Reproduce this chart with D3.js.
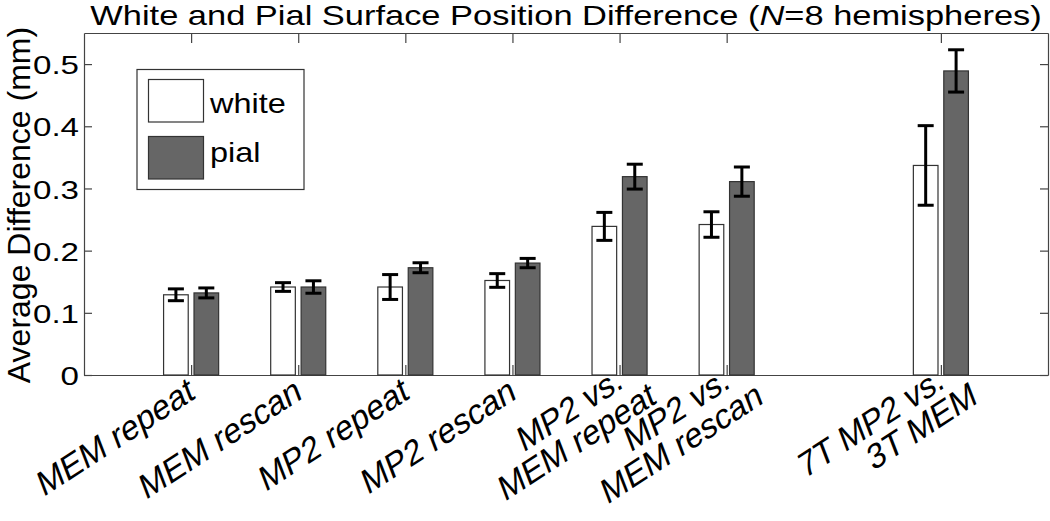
<!DOCTYPE html>
<html><head><meta charset="utf-8">
<script src="https://cdn.jsdelivr.net/npm/d3@7"></script>
<style>body{margin:0;background:#fff}</style>
</head><body><svg id="c" width="1050" height="521"></svg>
<script>
const categories = ["MEM repeat", "MEM rescan", "MP2 repeat", "MP2 rescan", "MP2 vs.\nMEM repeat", "MP2 vs.\nMEM rescan", "7T MP2 vs.\n3T MEM"];
const positions = [1, 2, 3, 4, 5, 6, 8];
const whiteMean = [0.129, 0.1415, 0.1415, 0.152, 0.239, 0.242, 0.337];
const whiteErr  = [0.0095, 0.007, 0.020, 0.011, 0.0225, 0.0205, 0.064];
const pialMean  = [0.132, 0.1415, 0.1725, 0.180, 0.319, 0.311, 0.489];
const pialErr   = [0.008, 0.010, 0.008, 0.0075, 0.020, 0.0235, 0.034];
const yTicks = [0, 0.1, 0.2, 0.3, 0.4, 0.5];
const seriesNames = ["white", "pial"];

const font = "'Liberation Sans', Arial, Helvetica, sans-serif";
const svg = d3.select("#c");
svg.append("rect").attr("width", 1050).attr("height", 521).attr("fill", "#fff");

const m = {left: 84, right: 1048, top: 33, bottom: 375};
const x = d3.scaleLinear().domain([0, 9]).range([m.left, m.right]);
const y = d3.scaleLinear().domain([0, 0.55]).range([m.bottom, m.top]);
const frame = "#444";

svg.append("rect").attr("x", m.left).attr("y", m.top)
  .attr("width", m.right - m.left).attr("height", m.bottom - m.top).attr("fill", "#fff");

const gL = svg.append("g").attr("transform", `translate(${m.left},0)`)
  .call(d3.axisLeft(y).tickValues(yTicks).tickSizeInner(-8).tickSizeOuter(0).tickPadding(5)
    .tickFormat(d => d === 0 ? "0" : d3.format(".1f")(d)));
const gR = svg.append("g").attr("transform", `translate(${m.right},0)`)
  .call(d3.axisRight(y).tickValues(yTicks).tickSizeInner(-8).tickSizeOuter(0).tickFormat(""));
const gT = svg.append("g").attr("transform", `translate(0,${m.top})`)
  .call(d3.axisTop(x).tickValues(positions).tickSizeInner(-10).tickSizeOuter(0).tickFormat(""));
const gB = svg.append("g").attr("transform", `translate(0,${m.bottom})`)
  .call(d3.axisBottom(x).tickValues(positions).tickSizeInner(-10).tickSizeOuter(0).tickFormat(""));
[gL, gR, gT, gB].forEach(g => {
  g.selectAll("path.domain").attr("stroke", frame).attr("stroke-width", 1.2);
  g.selectAll(".tick line").attr("stroke", frame).attr("stroke-width", 1.2);
});
gL.selectAll(".tick text")
  .attr("font-family", font).attr("font-size", 26.5).attr("fill", "#000")
  .attr("x", -5 / 1.25).attr("dy", "0.36em")
  .attr("transform", "scale(1.25,1)");

const barW = 0.23, off = 0.142;
const series = [
  {name: seriesNames[0], mean: whiteMean, err: whiteErr, fill: "#fff", stroke: "#333", dx: -off},
  {name: seriesNames[1], mean: pialMean, err: pialErr, fill: "#666", stroke: "#333", dx: off}
];
const bw = x(barW) - x(0);
series.forEach(s => {
  svg.append("g").selectAll("rect").data(positions).join("rect")
    .attr("x", p => x(p + s.dx) - bw / 2)
    .attr("y", (p, i) => y(s.mean[i]))
    .attr("width", bw)
    .attr("height", (p, i) => y(0) - y(s.mean[i]))
    .attr("fill", s.fill).attr("stroke", s.stroke).attr("stroke-width", 1.2);
});
const cap = 8;
series.forEach(s => {
  const g = svg.append("g").attr("stroke", "#000").attr("stroke-width", 3).attr("fill", "none");
  positions.forEach((p, i) => {
    const cx = x(p + s.dx);
    const y1 = y(s.mean[i] + s.err[i]), y2 = y(s.mean[i] - s.err[i]);
    g.append("line").attr("x1", cx).attr("x2", cx).attr("y1", y1).attr("y2", y2);
    g.append("line").attr("x1", cx - cap).attr("x2", cx + cap).attr("y1", y1).attr("y2", y1);
    g.append("line").attr("x1", cx - cap).attr("x2", cx + cap).attr("y1", y2).attr("y2", y2);
  });
});

// x labels (rotated, multi-line)
const xl = svg.append("g").attr("font-family", font).attr("font-size", 33.5).attr("fill", "#000");
categories.forEach((c, i) => {
  const lines = c.split("\n");
  const ax = x(positions[i]) + 5, ay = m.bottom + 23 - 11 * (lines.length - 1);
  const g = xl.append("g").attr("transform", `translate(${ax},${ay}) rotate(-33)`);
  lines.forEach((ln, k) => {
    g.append("text").attr("text-anchor", "end")
      .attr("transform", `translate(${19 * k},${31 * k}) skewX(-12)`).text(ln);
  });
});

// title
const t = svg.append("text").attr("font-family", font).attr("font-size", 28).attr("fill", "#000")
  .attr("text-anchor", "middle")
  .attr("transform", `translate(${(m.left + m.right) / 2},25) scale(1.23,1)`);
t.append("tspan").text("White and Pial Surface Position Difference (");
t.append("tspan").attr("font-style", "italic").text("N");
t.append("tspan").text("=8 hemispheres)");

// y label
svg.append("text").attr("font-family", font).attr("font-size", 32).attr("fill", "#000")
  .attr("text-anchor", "middle")
  .attr("transform", `translate(30,205) rotate(-90)`)
  .text("Average Difference (mm)");

// legend
const lg = svg.append("g");
lg.append("rect").attr("x", 137).attr("y", 69.5).attr("width", 167).attr("height", 120)
  .attr("fill", "#fff").attr("stroke", "#333").attr("stroke-width", 1.2);
series.forEach((s, i) => {
  lg.append("rect").attr("x", 148.5).attr("y", 79.5 + i * 57).attr("width", 55).attr("height", 42.5)
    .attr("fill", s.fill).attr("stroke", s.stroke).attr("stroke-width", 1.2);
  lg.append("text").attr("font-family", font).attr("font-size", 28).attr("fill", "#000")
    .attr("transform", `translate(210,${113 + i * 48.5}) scale(1.16,1)`).text(s.name);
});
</script></body></html>
